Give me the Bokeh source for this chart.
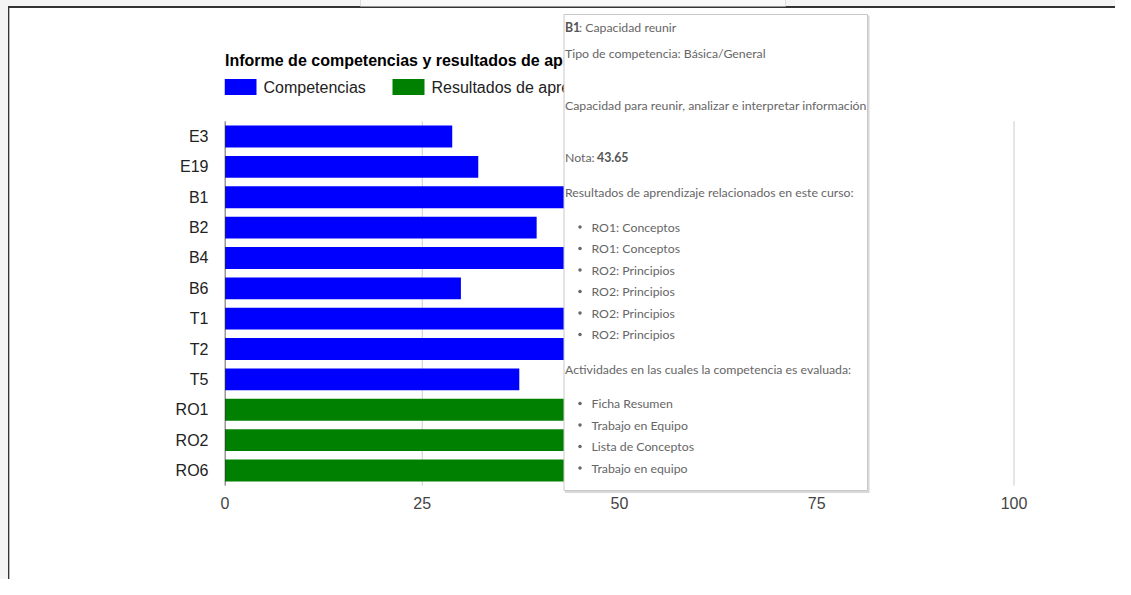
from bokeh.plotting import figure
from bokeh.layouts import column, row
from bokeh.models import Range1d, FixedTicker, ColumnDataSource, Div
from bokeh.core.properties import value
from bokeh.embed import file_html
from bokeh.resources import INLINE

# ---------------- data ----------------
comp_labels = ["E3", "E19", "B1", "B2", "B4", "B6", "T1", "T2", "T5"]
comp_values = [28.8, 32.1, 43.65, 39.5, 45.0, 29.9, 47.0, 46.0, 37.3]
ro_labels = ["RO1", "RO2", "RO6"]
ro_values = [48.0, 47.0, 46.5]
x_ticks = [0, 25, 50, 75, 100]
grid_ticks = [25, 50, 75, 100]
title_text = "Informe de competencias y resultados de aprendizaje"
series_names = ["Competencias", "Resultados de aprendizaje"]
series_colors = ["#0000ff", "#008000"]

tip_code = "B1"
tip_name = ": Capacidad reunir"
tip_type = "Tipo de competencia: Básica/General"
tip_desc = "Capacidad para reunir, analizar e interpretar información"
tip_grade_label = "Nota:"
tip_ro_title = "Resultados de aprendizaje relacionados en este curso:"
tip_ro_items = ["RO1: Conceptos", "RO1: Conceptos", "RO2: Principios",
                "RO2: Principios", "RO2: Principios", "RO2: Principios"]
tip_act_title = "Actividades en las cuales la competencia es evaluada:"
tip_act_items = ["Ficha Resumen", "Trabajo en Equipo", "Lista de Conceptos", "Trabajo en equipo"]

# ---------------- page geometry ----------------
PAGE_W, PAGE_H = 1115, 579
OX, OY = 10, 8            # where the main figure starts on the page
X0 = 224.5                # page x of value 0
PXU = 7.89                # px per value unit
Y0 = 470.0                # page y of last category centre
PYU = 30.364              # px per category
FRAME_L, FRAME_T, FRAME_B = 224, OY, 491


def dx(px):
    return (px - X0) / PXU


def dy(py):
    return (Y0 - py) / PYU


# host-page frame around the chart (plain HTML strips)
top_bg = ("linear-gradient(to right, #f4f4f4 0px, #f4f4f4 8.3px, transparent 8.3px), "
          "linear-gradient(to right, transparent 360px, #dddddd 360px, #dddddd 361px, "
          "#f9f9f9 361px, #f9f9f9 785px, #dddddd 785px, #dddddd 786px, transparent 786px) "
          "top left / 100% 6.5px no-repeat, "
          "linear-gradient(to bottom, #f4f4f4 0px, #f4f4f4 6.5px, #333333 6.5px, #333333 8px)")
top = Div(text="", width=PAGE_W, height=OY,
          styles={"background": top_bg, "margin": "0", "padding": "0"})
left_bg = ("linear-gradient(to right, #f4f4f4 0px, #f4f4f4 8.3px, #333333 8.3px, "
           "#333333 9.5px, #bbbbbb 9.5px, #bbbbbb 10px)")
left = Div(text="", width=OX, height=PAGE_H - OY,
           styles={"background": left_bg, "margin": "0", "padding": "0"})

all_labels = comp_labels + ro_labels
n = len(all_labels)
pos = {lab: n - 1 - i for i, lab in enumerate(all_labels)}

MW, MH = PAGE_W - OX, PAGE_H - OY
p = figure(width=MW, height=MH,
           x_range=Range1d(dx(FRAME_L), dx(PAGE_W)),
           y_range=Range1d(dy(FRAME_B), dy(FRAME_T)),
           output_backend="svg", toolbar_location=None,
           min_border_left=FRAME_L - OX, min_border_right=0,
           min_border_top=0, min_border_bottom=PAGE_H - FRAME_B)
p.outline_line_color = None
p.background_fill_color = "white"
p.border_fill_color = "white"
p.xgrid.visible = False
p.ygrid.visible = False

# axes
p.xaxis.ticker = FixedTicker(ticks=x_ticks)
p.xaxis.axis_line_color = None
p.xaxis.major_tick_line_color = None
p.xaxis.minor_tick_line_color = None
p.xaxis.major_tick_out = 0
p.xaxis.major_label_standoff = 5
p.xaxis.major_label_text_font = "Liberation Sans"
p.xaxis.major_label_text_font_size = "16px"
p.xaxis.major_label_text_color = "#444444"

p.yaxis.ticker = FixedTicker(ticks=list(range(n)))
p.yaxis.major_label_overrides = {pos[lab]: lab for lab in all_labels}
p.yaxis.axis_line_color = None
p.yaxis.major_tick_line_color = None
p.yaxis.minor_tick_line_color = None
p.yaxis.major_tick_out = 0
p.yaxis.major_label_standoff = 16
p.yaxis.major_label_text_font = "Liberation Sans"
p.yaxis.major_label_text_font_size = "16px"
p.yaxis.major_label_text_color = "#222222"

# gridlines
p.segment(x0=grid_ticks, x1=grid_ticks, y0=[-0.5] * len(grid_ticks),
          y1=[n - 0.5] * len(grid_ticks), line_color="#cccccc", line_width=1)

# bars
src_c = ColumnDataSource(dict(y=[pos[l] for l in comp_labels], right=comp_values))
src_r = ColumnDataSource(dict(y=[pos[l] for l in ro_labels], right=ro_values))
p.hbar(y="y", right="right", left=0, height=0.72, source=src_c,
       fill_color=series_colors[0], line_color=None)
p.hbar(y="y", right="right", left=0, height=0.72, source=src_r,
       fill_color=series_colors[1], line_color=None)
# baseline
p.segment(x0=[0], x1=[0], y0=[-0.5], y1=[n - 0.5], line_color="#333333", line_width=1)

# title
p.text(x=[dx(224.5)], y=[dy(60)], text=[title_text],
       text_font=value("Liberation Sans"), text_font_style="bold",
       text_font_size="16px", text_baseline="middle", text_align="left",
       text_color="#000000")

# legend (drawn as glyphs so that the tooltip can cover it)
leg_swatch_x = [240, 408]
leg_text_x = [263, 431]
LEG_Y = 86.5
p.rect(x=[dx(v) for v in leg_swatch_x], y=[dy(LEG_Y)] * 2, width=32 / PXU, height=16 / PYU,
       fill_color=series_colors, line_color=None)
p.text(x=[dx(v) for v in leg_text_x], y=[dy(LEG_Y)] * 2, text=series_names,
       text_font=value("Liberation Sans"), text_font_size="16px",
       text_baseline="middle", text_align="left", text_color="#222222")

# tooltip
TL, TR, TT, TB = 563.5, 867.0, 14.0, 490.0
p.quad(left=[dx(TL + 1)], right=[dx(TR + 2)], top=[dy(TT + 1)], bottom=[dy(TB + 2.5)],
       fill_color="#d8d8d8", line_color=None, level="overlay")
p.quad(left=[dx(TL)], right=[dx(TR)], top=[dy(TT)], bottom=[dy(TB)],
       fill_color="white", line_color="#c8c8c8", line_width=1, level="overlay")

TX = 564.5
reg_x, reg_y, reg_t = [], [], []
bold_x, bold_y, bold_t = [], [], []
bold_x.append(dx(TX)); bold_y.append(dy(27)); bold_t.append(tip_code)
reg_x.append(dx(578.5)); reg_y.append(dy(27)); reg_t.append(tip_name)
reg_x.append(dx(TX)); reg_y.append(dy(53)); reg_t.append(tip_type)
reg_x.append(dx(TX)); reg_y.append(dy(104.5)); reg_t.append(tip_desc)
reg_x.append(dx(TX)); reg_y.append(dy(156.5)); reg_t.append(tip_grade_label)
bold_x.append(dx(596.5)); bold_y.append(dy(156.5))
bold_t.append(f"{comp_values[comp_labels.index(tip_code)]:.2f}")
reg_x.append(dx(TX)); reg_y.append(dy(192)); reg_t.append(tip_ro_title)
ro_y = [226.5, 248, 269.5, 291, 312.5, 334]
for t, yy in zip(tip_ro_items, ro_y):
    reg_x.append(dx(591)); reg_y.append(dy(yy)); reg_t.append(t)
reg_x.append(dx(TX)); reg_y.append(dy(369)); reg_t.append(tip_act_title)
act_y = [403, 424.5, 446, 467.5]
for t, yy in zip(tip_act_items, act_y):
    reg_x.append(dx(591)); reg_y.append(dy(yy)); reg_t.append(t)

p.text(x=reg_x, y=reg_y, text=reg_t, text_font=value("Lato"), text_font_size="12.3px",
       text_baseline="middle", text_align="left", text_color="#666666", level="overlay")
p.text(x=bold_x, y=bold_y, text=bold_t, text_font=value("Lato"), text_font_size="12.3px",
       text_font_style="bold", text_baseline="middle", text_align="left",
       text_color="#555555", level="overlay")
bul_y = ro_y + act_y
p.scatter(x=[dx(579.5)] * len(bul_y), y=[dy(v) for v in bul_y], size=3.5,
          marker="circle", fill_color="#666666", line_color=None, level="overlay")

layout = column(top, row(left, p, spacing=0), spacing=0)
open("out.html", "w").write(file_html(layout, INLINE))
